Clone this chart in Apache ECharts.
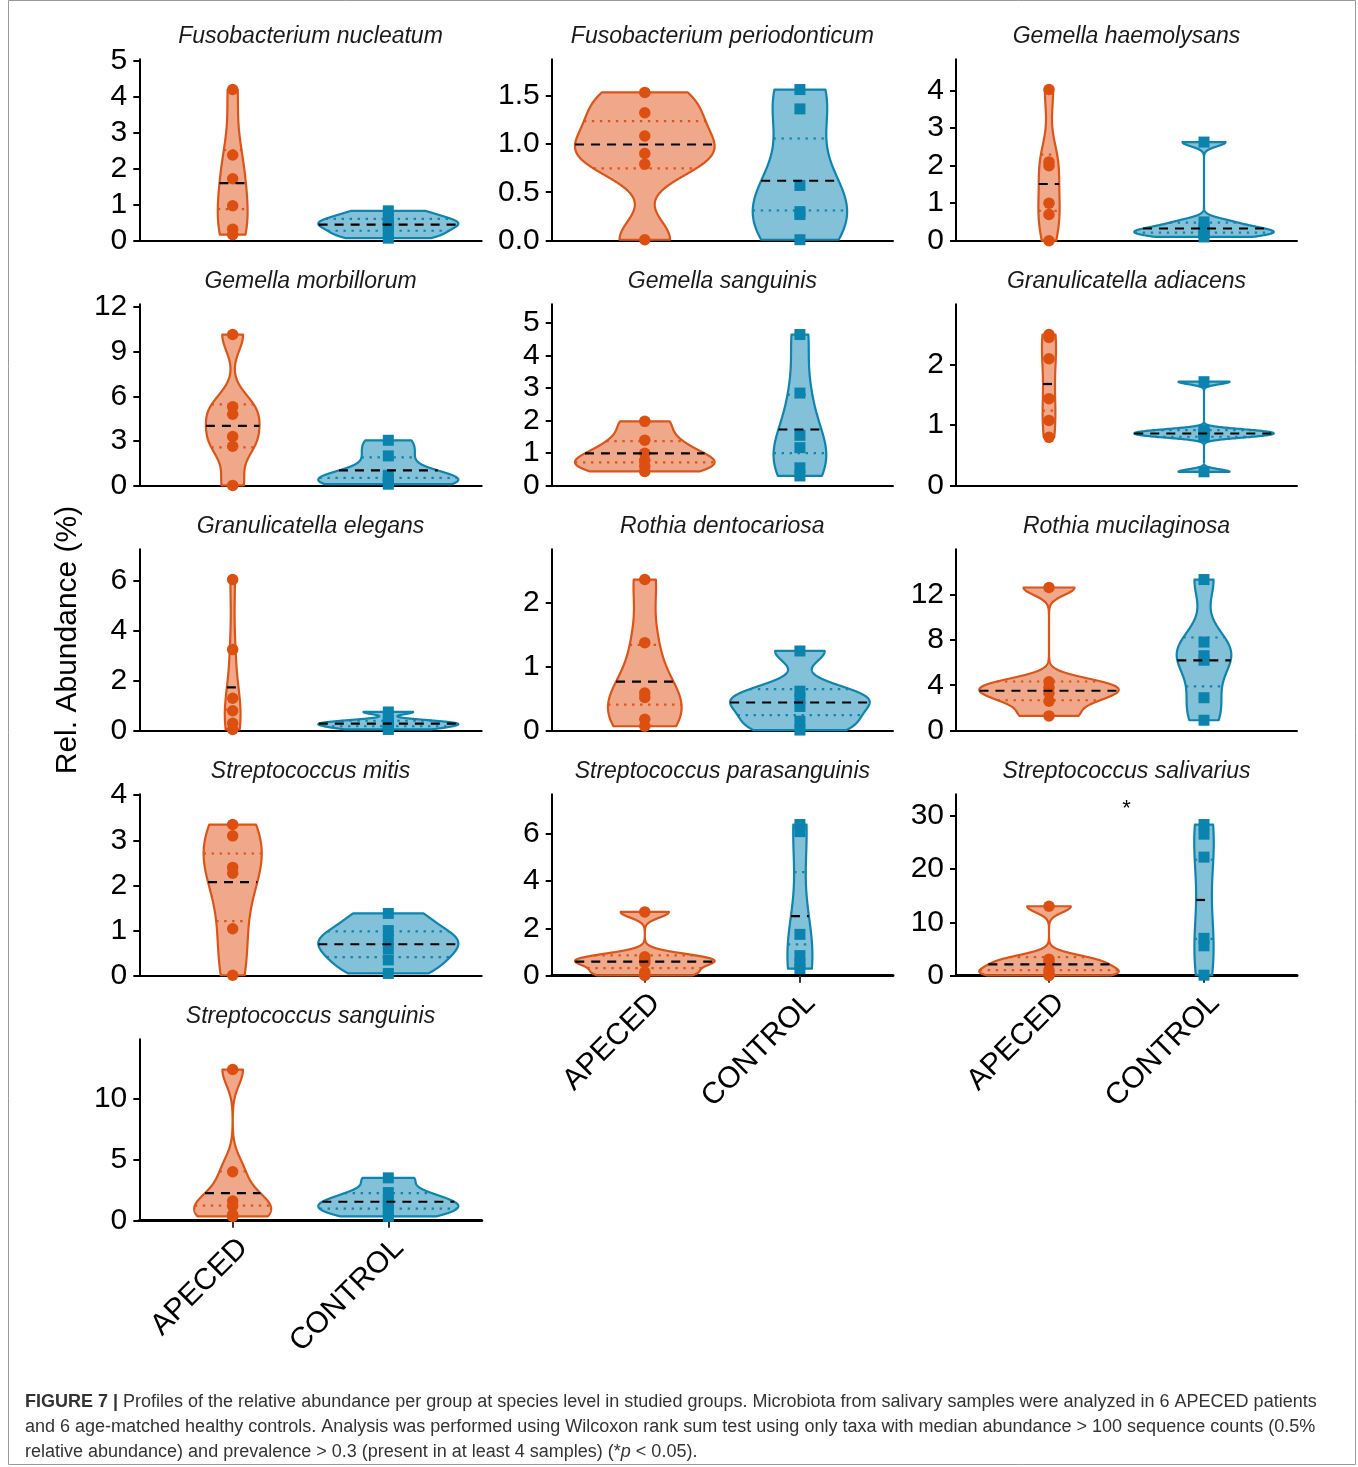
<!DOCTYPE html>
<html>
<head>
<meta charset="utf-8">
<script src="https://cdn.jsdelivr.net/npm/echarts@6/dist/echarts.min.js"></script>
<style>
html,body{margin:0;padding:0;background:#fff;}
#chart{width:1358px;height:1467px;}
</style>
</head>
<body>
<div id="chart"></div>
<script>
// ---------------- data ----------------
const groups = ['APECED', 'CONTROL'];
const species = [
  'Fusobacterium nucleatum', 'Fusobacterium periodonticum', 'Gemella haemolysans',
  'Gemella morbillorum', 'Gemella sanguinis', 'Granulicatella adiacens',
  'Granulicatella elegans', 'Rothia dentocariosa', 'Rothia mucilaginosa',
  'Streptococcus mitis', 'Streptococcus parasanguinis', 'Streptococcus salivarius',
  'Streptococcus sanguinis'
];
const apecedValues = [
  [4.2, 2.38, 1.72, 0.97, 0.32, 0.17],
  [1.53, 1.32, 1.08, 0.9, 0.79, 0.01],
  [4.03, 2.1, 2.0, 1.0, 0.7, 0.0],
  [10.15, 5.3, 4.8, 3.3, 2.65, 0.02],
  [1.98, 1.4, 1.0, 0.78, 0.6, 0.44],
  [2.5, 2.45, 2.1, 1.44, 1.08, 0.8],
  [6.05, 3.25, 1.3, 0.8, 0.3, 0.05],
  [2.37, 1.38, 0.59, 0.52, 0.18, 0.07],
  [12.6, 4.3, 3.8, 3.3, 2.6, 1.3],
  [3.35, 3.1, 2.4, 2.27, 1.04, 0.01],
  [2.7, 0.8, 0.65, 0.55, 0.15, 0.01],
  [13.0, 3.1, 2.5, 1.0, 0.3, 0.05],
  [12.35, 4.0, 1.6, 1.2, 0.5, 0.35]
];
const controlValues = [
  [0.83, 0.62, 0.5, 0.4, 0.22, 0.07],
  [1.56, 1.36, 0.57, 0.3, 0.27, 0.01],
  [2.63, 0.5, 0.33, 0.25, 0.2, 0.1],
  [3.05, 2.0, 0.7, 0.45, 0.3, 0.1],
  [4.65, 2.85, 1.55, 1.17, 0.55, 0.3],
  [1.72, 0.92, 0.88, 0.85, 0.81, 0.23],
  [0.75, 0.4, 0.3, 0.25, 0.15, 0.05],
  [1.25, 0.62, 0.5, 0.38, 0.15, 0.01],
  [13.3, 7.8, 6.6, 6.2, 2.9, 0.92],
  [1.38, 1.0, 0.8, 0.6, 0.35, 0.05],
  [6.4, 6.1, 1.75, 0.85, 0.5, 0.3],
  [28.3, 26.5, 22.2, 7.0, 5.6, 0.1],
  [3.5, 2.3, 1.6, 1.3, 0.8, 0.35]
];
const yTickLabels = [
  ['0', '1', '2', '3', '4', '5'],
  ['0.0', '0.5', '1.0', '1.5'],
  ['0', '1', '2', '3', '4'],
  ['0', '3', '6', '9', '12'],
  ['0', '1', '2', '3', '4', '5'],
  ['0', '1', '2'],
  ['0', '2', '4', '6'],
  ['0', '1', '2'],
  ['0', '4', '8', '12'],
  ['0', '1', '2', '3', '4'],
  ['0', '2', '4', '6'],
  ['0', '10', '20', '30'],
  ['0', '5', '10']
];
const significance = ['', '', '', '', '', '', '', '', '', '', '', '*', ''];
const yAxisTitle = 'Rel. Abundance (%)';
const captionLines = [
  '{b|FIGURE 7 |} Profiles of the relative abundance per group at species level in studied groups. Microbiota from salivary samples were analyzed in 6 APECED patients',
  'and 6 age-matched healthy controls. Analysis was performed using Wilcoxon rank sum test using only taxa with median abundance > 100 sequence counts (0.5%',
  'relative abundance) and prevalence > 0.3 (present in at least 4 samples) (*{i|p} < 0.05).'
];

// ---------------- styles / layout ----------------
const FONT = '"Liberation Sans", Arial, Helvetica, sans-serif';
const lineColors = ['#DC5418', '#0E84AF'];
const pointColors = ['#DD4F10', '#0A83AE'];
const fillColors = ['rgba(224,82,20,0.5)', 'rgba(6,132,176,0.5)'];
const colLeft = [139.3, 551.7, 956];
const colWidth = [342.4, 341.3, 341];
const rowTop0 = 59.3, rowStep = 245, plotH = 181.4;
const bottomPanels = [10, 11, 12];

// ---------------- violin statistics (ggplot2 geom_violin style) ----------------
function sdev(a) {
  const n = a.length, m = a.reduce((s, x) => s + x, 0) / n;
  return Math.sqrt(a.reduce((s, x) => s + (x - m) * (x - m), 0) / (n - 1));
}
function q7(a, p) {
  const s = [...a].sort((x, y) => x - y);
  const h = (s.length - 1) * p, lo = Math.floor(h), hi = Math.min(lo + 1, s.length - 1);
  return s[lo] + (h - lo) * (s[hi] - s[lo]);
}
function bwNrd0(a) {
  const hi = sdev(a);
  let lo = Math.min(hi, (q7(a, 0.75) - q7(a, 0.25)) / 1.34);
  if (!lo) lo = hi || Math.abs(a[0]) || 1;
  return 0.9 * lo * Math.pow(a.length, -0.2);
}
function kde(a) {
  const bw = bwNrd0(a), from = Math.min(...a), to = Math.max(...a), N = 512;
  const ys = [], ds = [];
  for (let k = 0; k < N; k++) {
    const y = from + (to - from) * k / (N - 1);
    let d = 0;
    for (const x of a) { const z = (y - x) / bw; d += Math.exp(-0.5 * z * z); }
    ys.push(y); ds.push(d / (a.length * bw * Math.sqrt(2 * Math.PI)));
  }
  return { ys, ds };
}
function quantY(ys, ds, q) {
  const tot = ds.reduce((s, x) => s + x, 0);
  let c = 0; const cum = ds.map(d => (c += d) / tot);
  for (let k = 1; k < cum.length; k++) {
    if (cum[k] >= q) {
      const t = (q - cum[k - 1]) / ((cum[k] - cum[k - 1]) || 1);
      return ys[k - 1] + t * (ys[k] - ys[k - 1]);
    }
  }
  return ys[ys.length - 1];
}
function interp(ys, vals, y) {
  for (let k = 1; k < ys.length; k++) {
    if (ys[k] >= y) {
      const t = (y - ys[k - 1]) / ((ys[k] - ys[k - 1]) || 1);
      return vals[k - 1] + t * (vals[k] - vals[k - 1]);
    }
  }
  return vals[vals.length - 1];
}
const violins = species.map((s, i) => {
  const dens = [kde(apecedValues[i]), kde(controlValues[i])];
  const maxD = Math.max(...dens[0].ds, ...dens[1].ds);
  return dens.map(d => {
    const vw = d.ds.map(x => x / maxD);
    const quants = [0.25, 0.5, 0.75].map(q => {
      const y = quantY(d.ys, d.ds, q);
      return { q, y, w: interp(d.ys, vw, y) };
    });
    return { ys: d.ys, vw, quants };
  });
});

// ---------------- build option ----------------
const grid = [], xAxis = [], yAxis = [], series = [], graphic = [];
species.forEach((name, i) => {
  const r = Math.floor(i / 3), c = i % 3;
  const isBottom = bottomPanels.includes(i);
  const ticks = yTickLabels[i].map(Number);
  const labels = yTickLabels[i];
  const yMax = 1.2 * Math.max(...apecedValues[i], ...controlValues[i]);
  grid.push({ left: colLeft[c], top: rowTop0 + r * rowStep, width: colWidth[c], height: plotH, containLabel: false, outerBoundsMode: 'none' });
  xAxis.push({
    gridIndex: i, type: 'value', min: 0.4, max: 2.6,
    axisLine: { show: true, onZero: false, lineStyle: { color: '#000', width: isBottom ? 3 : 2 } },
    axisTick: { show: isBottom, customValues: [1, 2], length: 7, lineStyle: { color: '#333', width: 2 } },
    axisLabel: {
      show: isBottom, customValues: [1, 2], rotate: 45, margin: 12,
      align: 'right', verticalAlign: 'top',
      formatter: v => groups[Math.round(v) - 1] || '',
      fontSize: 30, fontFamily: FONT, color: '#000'
    },
    splitLine: { show: false }
  });
  yAxis.push({
    gridIndex: i, type: 'value', min: 0, max: yMax, interval: ticks[1] - ticks[0],
    axisLine: { show: true, onZero: false, lineStyle: { color: '#000', width: 2 } },
    axisTick: { show: true, customValues: ticks, length: 6, lineStyle: { color: '#000', width: 2 } },
    axisLabel: {
      customValues: ticks, margin: 12, fontSize: 30, fontFamily: FONT, color: '#000',
      formatter: v => { const k = ticks.findIndex(t => Math.abs(t - v) < 1e-9); return k >= 0 ? labels[k] : ''; }
    },
    splitLine: { show: false }
  });
  // violin bodies
  series.push({
    type: 'custom', xAxisIndex: i, yAxisIndex: i, z: 2, silent: true,
    data: [[1, 0], [2, 0]],
    renderItem: (params, api) => {
      const g = Math.round(api.value(0)) - 1;
      const v = violins[i][g], cx = g + 1;
      const left = [], right = [];
      for (let k = 0; k < v.ys.length; k++) {
        const hw = 0.45 * v.vw[k];
        left.push(api.coord([cx - hw, v.ys[k]]));
        right.push(api.coord([cx + hw, v.ys[k]]));
      }
      return {
        type: 'polygon', shape: { points: left.concat(right.reverse()) },
        style: { fill: fillColors[g], stroke: lineColors[g], lineWidth: 2.2, lineJoin: 'round' }
      };
    }
  });
  // points
  series.push({
    type: 'scatter', xAxisIndex: i, yAxisIndex: i, z: 3, silent: true,
    symbol: 'circle', symbolSize: 11.5, itemStyle: { color: pointColors[0], opacity: 1 },
    data: apecedValues[i].map(v => [1, v])
  });
  series.push({
    type: 'scatter', xAxisIndex: i, yAxisIndex: i, z: 3, silent: true,
    symbol: 'rect', symbolSize: 11, itemStyle: { color: pointColors[1], opacity: 1 },
    data: controlValues[i].map(v => [2, v])
  });
  // quantile lines
  series.push({
    type: 'custom', xAxisIndex: i, yAxisIndex: i, z: 4, silent: true,
    data: [[1, 0], [2, 0]],
    renderItem: (params, api) => {
      const g = Math.round(api.value(0)) - 1;
      const v = violins[i][g], cx = g + 1;
      const children = v.quants.map(qq => {
        const hw = 0.45 * qq.w;
        const p1 = api.coord([cx - hw, qq.y]), p2 = api.coord([cx + hw, qq.y]);
        const isMed = qq.q === 0.5;
        return {
          type: 'line', shape: { x1: p1[0], y1: p1[1], x2: p2[0], y2: p2[1] },
          style: isMed
            ? { stroke: '#000', lineWidth: 2.2, lineDash: [9, 7] }
            : { stroke: lineColors[g], lineWidth: 2.2, lineDash: [2.4, 5.6] }
        };
      });
      return { type: 'group', children };
    }
  });
  if (significance[i]) {
    series.push({
      type: 'custom', xAxisIndex: i, yAxisIndex: i, z: 5, silent: true,
      data: [[1.5, 1.1 * Math.max(...apecedValues[i], ...controlValues[i])]],
      renderItem: (params, api) => {
        const p = api.coord([api.value(0), api.value(1)]);
        return {
          type: 'text', x: p[0], y: p[1],
          style: { text: significance[i], font: '22px ' + FONT, fill: '#000', align: 'center', verticalAlign: 'middle', textAlign: 'center', textVerticalAlign: 'middle' }
        };
      }
    });
  }
  // panel title
  graphic.push({
    type: 'text', x: colLeft[c] + colWidth[c] / 2, y: 37 + r * rowStep, silent: true,
    style: { text: name, font: 'italic 23px ' + FONT, fill: '#1a1a1a', align: 'center', verticalAlign: 'middle', textAlign: 'center', textVerticalAlign: 'middle' }
  });
});

// y-axis title
graphic.push({
  type: 'text', x: 68, y: 640, rotation: Math.PI / 2, silent: true,
  style: { text: yAxisTitle, font: '30px ' + FONT, fill: '#000', align: 'center', verticalAlign: 'middle', textAlign: 'center', textVerticalAlign: 'middle' }
});
// caption
captionLines.forEach((t, k) => {
  graphic.push({
    type: 'text', x: 25, y: 1402 + 25 * k, silent: true,
    style: {
      text: t, font: '18px ' + FONT, fill: '#333', align: 'left', verticalAlign: 'middle', textAlign: 'left', textVerticalAlign: 'middle',
      rich: {
        b: { fontWeight: 'bold', fontSize: 18, fontFamily: FONT, fill: '#333', color: '#333' },
        i: { fontStyle: 'italic', fontSize: 18, fontFamily: FONT, fill: '#333', color: '#333' }
      }
    }
  });
});
// frame
graphic.push({
  type: 'rect', silent: true, z: -1,
  shape: { x: 8.5, y: 0.5, width: 1347, height: 1464 },
  style: { fill: 'none', stroke: '#9a9a9a', lineWidth: 1 }
});

const chart = echarts.init(document.getElementById('chart'), null, { renderer: 'canvas' });
chart.setOption({
  animation: false,
  backgroundColor: '#fff',
  grid, xAxis, yAxis, series, graphic
});
</script>
</body>
</html>
